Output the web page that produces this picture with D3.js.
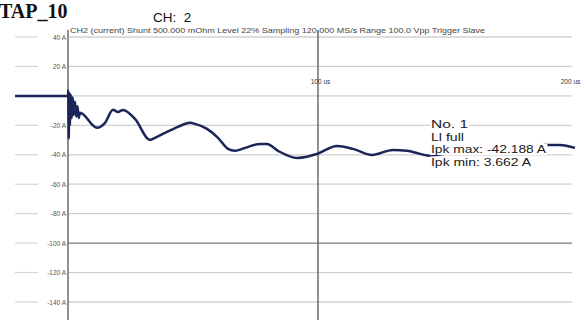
<!DOCTYPE html>
<html>
<head>
<meta charset="utf-8">
<script src="https://cdn.jsdelivr.net/npm/d3@7"></script>
<style>
  html, body { margin: 0; padding: 0; background: #fff; }
  svg { display: block; }
</style>
</head>
<body>
<svg id="chart" width="586" height="320"></svg>
<script>
// Captured current waveform, CH2 (time in µs, current in A)
const timeUs = [-21.2, -10, 0, 0.1, 0.3, 0.5, 0.8, 1.1, 1.5, 1.9, 2.3, 2.8, 3.3, 3.8, 4.3, 4.8,
  11.6, 14.8, 18, 20, 22, 26.8, 32.8, 34.8, 38.8, 44, 48.8, 50.8, 55.6, 60, 64, 66.8,
  70.8, 76.8, 79.6, 84, 91.6, 95.6, 99.6, 107.6, 114, 121.6, 130, 135.6, 140.8, 144.8,
  152.8, 162.8, 172.8, 182.8, 190.8, 196.8, 202.8];
const currentA = [0, 0, 0, 3.662, -29, 2, -20, 1, -15, -1, -13, -4, -14, -7, -15, -11.5,
  -21.7, -18.3, -9.5, -10.9, -9.5, -15.6, -29.9, -28.5, -25.1, -21.0, -18.3, -19.0, -22.4, -28.5, -36.0, -37.3,
  -35.3, -32.6, -32.6, -37.3, -42.188, -41.4, -39.4, -34.0, -36.0, -40.1, -36.7, -37.3, -39.4, -40.7,
  -38.7, -36.7, -38.7, -36.7, -33.3, -33.3, -35.3];

// Axis ticks
const yTicks = [40, 20, 0, -20, -40, -60, -80, -100, -120, -140];
const yTickLabels = ["40 A", "20 A", "", "-20 A", "-40 A", "-60 A", "-80 A", "-100 A", "-120 A", "-140 A"];
const xTicks = [100, 200];
const xTickLabels = ["100 us", "200 us"];

// Header and legend texts
const titleText = "TAP_10";
const channelText = "CH:  2";
const infoText = "CH2  (current)  Shunt 500.000 mOhm  Level 22%  Sampling 120.000 MS/s  Range 100.0 Vpp  Trigger Slave";
const legendLines = ["No. 1", "Ll full", "Ipk max: -42.188 A", "Ipk min: 3.662 A"];

const svg = d3.select("#chart");
const x = d3.scaleLinear().domain([0, 200]).range([68, 568]);
const y = d3.scaleLinear().domain([40, -140]).range([37, 302]);

// Horizontal grid lines
const grid = svg.append("g");
yTicks.forEach((v, i) => {
  const yy = y(v);
  const strong = v === -100;
  grid.append("line")
    .attr("x1", 15).attr("x2", 38).attr("y1", yy).attr("y2", yy)
    .attr("stroke", "#d4d4d4").attr("stroke-width", 1.2);
  grid.append("line")
    .attr("x1", x(0)).attr("x2", 572).attr("y1", yy).attr("y2", yy)
    .attr("stroke", strong ? "#7a7a7a" : "#d0d0d0").attr("stroke-width", strong ? 1.4 : 1.3);
});

// Y axis with tick labels
const yAxis = d3.axisLeft(y)
  .tickValues(yTicks)
  .tickSize(0)
  .tickPadding(2)
  .tickFormat((d, i) => yTickLabels[i]);
const yg = svg.append("g").attr("transform", `translate(${x(0)},0)`).call(yAxis);
yg.select(".domain").remove();
yg.selectAll("text")
  .attr("font-family", "Liberation Sans, Arial, sans-serif")
  .attr("font-size", 6.5)
  .attr("fill", "#555");

// Vertical lines: time zero and 100 us marker
[0, 100].forEach(t => {
  svg.append("line")
    .attr("x1", x(t)).attr("x2", x(t)).attr("y1", 30).attr("y2", 320)
    .attr("stroke", "#555").attr("stroke-width", 1.3);
});

// X tick labels above the zero line
const xAxis = d3.axisTop(x)
  .tickValues(xTicks)
  .tickSize(0)
  .tickPadding(0)
  .tickFormat((d, i) => xTickLabels[i]);
const xg = svg.append("g").attr("transform", "translate(0,84)").call(xAxis);
xg.select(".domain").remove();
xg.selectAll("text")
  .attr("font-family", "Liberation Sans, Arial, sans-serif")
  .attr("font-size", 6.5)
  .attr("fill", "#333")
  .attr("dy", 0)
  .attr("dx", 2);

// Waveform trace
const lineGen = d3.line()
  .x((d, i) => x(timeUs[i]))
  .y(d => y(d))
  .curve(d3.curveMonotoneX);
svg.append("path")
  .datum(currentA)
  .attr("d", lineGen)
  .attr("fill", "none")
  .attr("stroke", "#1c2558")
  .attr("stroke-width", 2.5)
  .attr("stroke-linejoin", "round");

// Header
svg.append("text")
  .attr("x", -1).attr("y", 18)
  .attr("font-family", "Liberation Serif, Times New Roman, serif")
  .attr("font-weight", "bold")
  .attr("font-size", 20)
  .attr("fill", "#111")
  .text(titleText);
svg.append("text")
  .attr("x", 153).attr("y", 22)
  .attr("font-family", "Liberation Sans, Arial, sans-serif")
  .attr("font-size", 13.5)
  .attr("fill", "#111")
  .attr("xml:space", "preserve")
  .text(channelText);
svg.append("text")
  .attr("x", 70).attr("y", 33)
  .attr("font-family", "Liberation Sans, Arial, sans-serif")
  .attr("font-size", 6.5)
  .attr("fill", "#444")
  .attr("textLength", 415)
  .attr("lengthAdjust", "spacingAndGlyphs")
  .text(infoText);

// Legend with white backing behind each line
const legend = svg.append("g").attr("transform", "translate(431,0)");
const legendY = [128, 140.5, 153, 165.5];
const legendW = [37, 33, 115, 100];
legendLines.forEach((t, i) => {
  const txt = legend.append("text")
    .attr("x", 0).attr("y", legendY[i])
    .attr("font-family", "Liberation Sans, Arial, sans-serif")
    .attr("font-size", 11.5)
    .attr("textLength", legendW[i])
    .attr("lengthAdjust", "spacingAndGlyphs")
    .attr("fill", "#1a1a1a")
    .text(t);
  const bb = txt.node().getBBox();
  legend.insert("rect", "text")
    .attr("x", bb.x - 1).attr("y", bb.y + 1)
    .attr("width", bb.width + 2).attr("height", bb.height - 1)
    .attr("fill", "#fff");
});
</script>
</body>
</html>
